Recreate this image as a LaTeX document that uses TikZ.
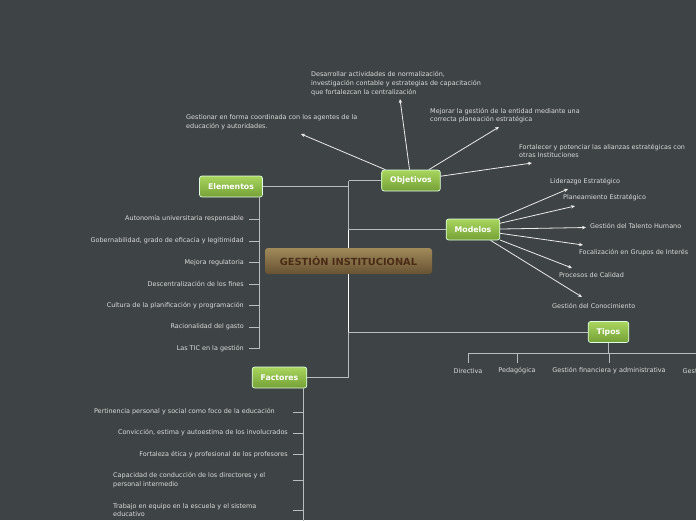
\documentclass[tikz,border=0pt]{standalone}
\usepackage{fontspec}
\setmainfont{DejaVu Sans}
\usetikzlibrary{arrows.meta,positioning}
\definecolor{fondo}{HTML}{3E4345}
\definecolor{lineagris}{HTML}{B9BDBD}
\definecolor{textogris}{HTML}{DADDDD}
\definecolor{verdearriba}{HTML}{A9D65E}
\definecolor{verdeabajo}{HTML}{74A036}
\definecolor{cafearriba}{HTML}{A08A5A}
\definecolor{cafeabajo}{HTML}{675233}
\definecolor{cafetexto}{HTML}{4A2C16}

\begin{document}
\begin{tikzpicture}[x=1pt,y=-1pt,>={Stealth[length=4pt,width=3.5pt]},
  rama/.style={draw=white!88!green,line width=0.7pt,rounded corners=2.5pt,
    top color=verdearriba,bottom color=verdeabajo,text=white,
    font=\fontsize{7.8}{9}\selectfont\bfseries,minimum height=21pt,inner xsep=8.5pt},
  hoja/.style={text=textogris,font=\fontsize{6.45}{8.6}\selectfont,inner sep=0pt},
  linea/.style={draw=lineagris,line width=0.8pt},
  flecha/.style={draw=white!92!black,line width=0.8pt,->}]
  \useasboundingbox (0,0) rectangle (696,520);
  \fill[fondo] (0,0) rectangle (696,520);
  \clip (0,0) rectangle (696,520);

  \node[top color=cafearriba,bottom color=cafeabajo,rounded corners=3pt,text=cafetexto,
    font=\fontsize{9.8}{11}\selectfont\bfseries,minimum width=167pt,minimum height=26pt]
    (ce) at (348.5,261) {GESTIÓN INSTITUCIONAL};
  \node[rama] (ob) at (411,180.5) {Objetivos};
  \node[rama] (el) at (231,186.5) {Elementos};
  \node[rama] (mo) at (473,229.5) {Modelos};
  \node[rama] (ti) at (608.5,332) {Tipos};
  \node[rama] (fa) at (279.5,377.5) {Factores};

  \draw[linea] (ob -| ce) -- (ce.north);
  \draw[linea] (ce.south) -- (fa -| ce);
  \draw[white,line width=1pt] (mo -| ce) -- (ce.north);
  \draw[white,line width=1pt] (ce.south) -- (ti -| ce);
  \draw[linea] (ob.west) -- (ob -| ce);
  \draw[linea] (el.east) -- (el -| ce);
  \draw[linea] (mo.west) -- (mo -| ce);
  \draw[linea] (ti.west) -- (ti -| ce);
  \draw[linea] (fa.east) -- (fa -| ce);

  \node[hoja,anchor=west,align=left] (o1) at (186,122.5) {Gestionar en forma coordinada con los agentes de la\\educación y autoridades.};
  \node[hoja,anchor=west,align=left] (o2) at (311,83.5) {Desarrollar actividades de normalización,\\investigación contable y estrategias de capacitación\\que fortalezcan la centralización};
  \node[hoja,anchor=west,align=left] (o3) at (430,115.5) {Mejorar la gestión de la entidad mediante una\\correcta planeación estratégica};
  \node[hoja,anchor=west,align=left] (o4) at (519,151) {Fortalecer y potenciar las alianzas estratégicas con\\otras Instituciones};
  \coordinate (oa1) at (301,134);
  \coordinate (oa2) at (400,99);
  \coordinate (oa3) at (499,127);
  \coordinate (oa4) at (532,163);
  \draw[flecha] (ob) -- (oa1);
  \draw[flecha] (ob) -- (oa2);
  \draw[flecha] (ob) -- (oa3);
  \draw[flecha] (ob) -- (oa4);

  \node[hoja,anchor=west] (m1) at (550,182) {Liderazgo Estratégico};
  \node[hoja,anchor=west] (m2) at (563,197.5) {Planeamiento Estratégico};
  \node[hoja,anchor=west] (m3) at (590,225.5) {Gestión del Talento Humano};
  \node[hoja,anchor=west] (m4) at (579,252.5) {Focalización en Grupos de Interés};
  \node[hoja,anchor=west] (m5) at (559,275.5) {Procesos de Calidad};
  \node[hoja,anchor=west] (m6) at (552,305.5) {Gestión del Conocimiento};
  \coordinate (ma1) at (568,189);
  \coordinate (ma2) at (575,206);
  \coordinate (ma3) at (586,227.5);
  \coordinate (ma4) at (583,245);
  \coordinate (ma5) at (572,268);
  \coordinate (ma6) at (582,297);
  \draw[flecha] (mo) -- (ma1);
  \draw[flecha] (mo) -- (ma2);
  \draw[flecha] (mo) -- (ma3);
  \draw[flecha] (mo) -- (ma4);
  \draw[flecha] (mo) -- (ma5);
  \draw[flecha] (mo) -- (ma6);

  \node[hoja,anchor=east] (e1) at (244,219) {Autonomía universitaria responsable};
  \node[hoja,anchor=east] (e2) at (244,241) {Gobernabilidad, grado de eficacia y legitimidad};
  \node[hoja,anchor=east] (e3) at (244,262.5) {Mejora regulatoria};
  \node[hoja,anchor=east] (e4) at (244,284) {Descentralización de los fines};
  \node[hoja,anchor=east] (e5) at (244,305.5) {Cultura de la planificación y programación};
  \node[hoja,anchor=east] (e6) at (244,327) {Racionalidad del gasto};
  \node[hoja,anchor=east] (e7) at (244,348.5) {Las TIC en la gestión};
  \coordinate (ev) at ([xshift=-3.5pt]el.south east);
  \draw[linea] (ev) -- (e7 -| ev);
  \draw[linea] ([xshift=5pt]e1.east) -- (e1 -| ev);
  \draw[linea] ([xshift=5pt]e2.east) -- (e2 -| ev);
  \draw[linea] ([xshift=5pt]e3.east) -- (e3 -| ev);
  \draw[linea] ([xshift=5pt]e4.east) -- (e4 -| ev);
  \draw[linea] ([xshift=5pt]e5.east) -- (e5 -| ev);
  \draw[linea] ([xshift=5pt]e6.east) -- (e6 -| ev);
  \draw[linea] ([xshift=5pt]e7.east) -- (e7 -| ev);

  \node[hoja,anchor=east] (f1) at (275,412) {Pertinencia personal y social como foco de la educación};
  \node[hoja,anchor=east] (f2) at (288,433) {Convicción, estima y autoestima de los involucrados};
  \node[hoja,anchor=east] (f3) at (288,454.5) {Fortaleza ética y profesional de los profesores};
  \node[hoja,anchor=west,align=left] (f4) at (113,480) {Capacidad de conducción de los directores y el\\personal intermedio};
  \node[hoja,anchor=west,align=left] (f5) at (113,510) {Trabajo en equipo en la escuela y el sistema\\educativo};
  \coordinate (fv) at ([xshift=-4pt]fa.south east);
  \coordinate (fx) at (293,400);
  \coordinate (fin) at (303,530);
  \draw[linea] (fv) -- (fv |- fin);
  \draw[linea] (f1 -| fx) -- (f1 -| fv);
  \draw[linea] (f2 -| fx) -- (f2 -| fv);
  \draw[linea] (f3 -| fx) -- (f3 -| fv);
  \draw[linea] (f4 -| fx) -- (f4 -| fv);
  \draw[linea] (f5 -| fx) -- (f5 -| fv);

  \node[hoja] (t1) at (468,371) {Directiva};
  \node[hoja] (t2) at (517,371) {Pedagógica};
  \node[hoja] (t3) at (609,371) {Gestión financiera y administrativa};
  \node[hoja,anchor=west] (t4) at (682.5,371) {Gestión de la comunidad};
  \coordinate (th) at (700,353);
  \draw[linea] (t1 |- th) -- (th);
  \draw[linea] (ti.south) -- (ti |- th);
  \draw[linea] (t1 |- th) -- ([yshift=5pt]t1.north);
  \draw[linea] (t2 |- th) -- ([yshift=5pt]t2.north);
  \draw[linea] (t3 |- th) -- ([yshift=5pt]t3.north);
\end{tikzpicture}
\end{document}
